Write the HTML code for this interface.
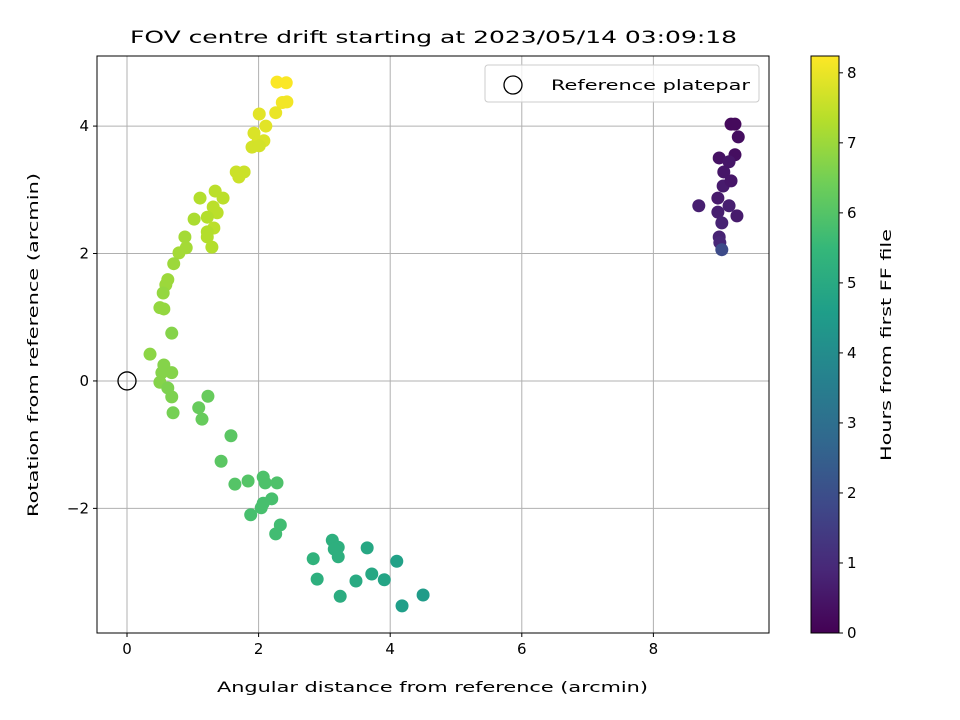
<!DOCTYPE html>
<html><head><meta charset="utf-8"><style>
body{margin:0;background:#fff}
svg{display:block;font-family:"DejaVu Sans","Liberation Sans",sans-serif}
</style></head><body>
<svg id="chart" width="960" height="720" xmlns="http://www.w3.org/2000/svg">
<defs>
<linearGradient id="vir" x1="0" y1="1" x2="0" y2="0">
<stop offset="0" stop-color="#440154"/><stop offset="0.111" stop-color="#482878"/><stop offset="0.222" stop-color="#3e4989"/><stop offset="0.333" stop-color="#31688e"/><stop offset="0.444" stop-color="#26828e"/><stop offset="0.556" stop-color="#1f9e89"/><stop offset="0.667" stop-color="#35b779"/><stop offset="0.778" stop-color="#6ece58"/><stop offset="0.889" stop-color="#b5de2b"/><stop offset="1" stop-color="#fde725"/>
</linearGradient>
</defs>
<text x="130" y="43" font-size="17" textLength="607" lengthAdjust="spacingAndGlyphs">FOV centre drift starting at 2023/05/14 03:09:18</text>
<g id="grid"></g>
<g id="marks"></g>
<rect x="97" y="56" width="672" height="577" fill="none" stroke="#000" stroke-width="1"/>
<g id="ticks"></g>
<text x="217" y="692" font-size="14" textLength="431" lengthAdjust="spacingAndGlyphs">Angular distance from reference (arcmin)</text>
<text transform="translate(38,517) rotate(-90)" font-size="14" textLength="344" lengthAdjust="spacingAndGlyphs">Rotation from reference (arcmin)</text>
<g>
<rect x="485" y="65" width="274" height="37" rx="3" fill="#fff" fill-opacity="0.8" stroke="#ccc"/>
<circle cx="513" cy="85" r="9" fill="none" stroke="#000" stroke-width="1.3"/>
<text x="551" y="90" font-size="14" textLength="199" lengthAdjust="spacingAndGlyphs">Reference platepar</text>
</g>
<rect x="811" y="56" width="28" height="577" fill="url(#vir)" stroke="#000" stroke-width="1"/>
<g id="cbticks"></g>
<text transform="translate(891,461) rotate(-90)" font-size="14" textLength="232" lengthAdjust="spacingAndGlyphs">Hours from first FF file</text>
</svg>
<script>
const xs=[9.18,9.24,9.29,9.00,9.24,9.15,9.07,9.06,9.18,8.98,9.15,8.69,8.98,9.27,9.04,9.00,9.01,9.04,
2.28,2.42,2.36,2.43,2.26,2.01,2.11,1.93,2.08,1.99,1.90,2.01,1.66,1.78,1.70,1.34,1.46,1.11,1.31,1.37,1.22,1.02,1.32,1.22,1.22,1.29,0.88,0.90,0.79,0.71,0.62,0.59,0.55,0.50,0.56,0.68,0.35,
0.56,0.68,0.53,0.50,0.62,0.68,0.70,1.23,1.09,1.14,1.58,1.43,1.64,1.84,2.07,2.10,2.28,2.20,2.07,2.04,1.88,2.33,2.26,3.12,3.21,3.15,3.21,2.83,2.89,3.24,3.48,3.65,3.72,3.91,4.10,4.18,4.50];
const ys=[4.03,4.03,3.83,3.50,3.55,3.44,3.28,3.06,3.14,2.87,2.75,2.75,2.65,2.59,2.48,2.26,2.17,2.06,
4.69,4.68,4.37,4.38,4.21,4.19,4.00,3.89,3.77,3.75,3.67,3.69,3.28,3.28,3.20,2.98,2.87,2.87,2.73,2.64,2.57,2.54,2.40,2.34,2.26,2.10,2.26,2.09,2.01,1.84,1.59,1.51,1.38,1.15,1.13,0.75,0.42,
0.25,0.13,0.13,-0.02,-0.11,-0.25,-0.50,-0.24,-0.42,-0.60,-0.86,-1.26,-1.62,-1.57,-1.51,-1.60,-1.60,-1.85,-1.92,-1.99,-2.10,-2.26,-2.40,-2.50,-2.61,-2.64,-2.76,-2.79,-3.11,-3.38,-3.14,-2.62,-3.03,-3.12,-2.83,-3.53,-3.36];
const hours=[0.2,0.2,0.3,0.4,0.3,0.5,0.5,0.6,0.5,0.6,0.7,0.7,0.7,0.6,0.8,0.8,0.9,1.9,
8.2,8.2,8.1,8.1,8.0,7.9,7.9,7.8,7.8,7.8,7.7,7.7,7.6,7.6,7.6,7.4,7.4,7.3,7.4,7.4,7.3,7.2,7.4,7.3,7.3,7.3,7.1,7.1,7.1,7.0,7.0,7.0,6.9,6.9,6.9,6.7,6.8,
6.7,6.7,6.7,6.7,6.6,6.6,6.5,6.3,6.3,6.3,6.1,6.1,6.0,6.0,5.9,5.9,5.9,5.8,5.8,5.8,5.8,5.7,5.7,5.2,5.2,5.2,5.2,5.3,5.2,5.1,5.0,4.9,4.9,4.8,4.7,4.6,4.5];
const xTicks=[0,2,4,6,8];
const yTicks=[-2,0,2,4];
const cbTicks=[0,1,2,3,4,5,6,7,8];
const refPoint=[0,0];
const X0=97,X1=769,Y0=633,Y1=56,xmin=-0.456,xmax=9.757,ymin=-3.956,ymax=5.10,hmax=8.24;
const sx=v=>X0+(v-xmin)/(xmax-xmin)*(X1-X0);
const sy=v=>Y0-(v-ymin)/(ymax-ymin)*(Y0-Y1);
const sc=v=>633-v/hmax*577;
const stops=[[68,1,84],[72,40,120],[62,73,137],[49,104,142],[38,130,142],[31,158,137],[53,183,121],[110,206,88],[181,222,43],[253,231,37]];
function vir(h){let t=Math.max(0,Math.min(1,h/hmax))*(stops.length-1);let i=Math.min(Math.floor(t),stops.length-2),f=t-i;
const c=stops[i].map((a,k)=>Math.round(a+(stops[i+1][k]-a)*f));return `rgb(${c})`;}
const NS="http://www.w3.org/2000/svg";
function mk(tag,attrs,parent,txt){const e=document.createElementNS(NS,tag);for(const k in attrs)e.setAttribute(k,attrs[k]);if(txt!==undefined)e.textContent=txt;document.getElementById(parent).appendChild(e);return e;}
xTicks.forEach(t=>{const x=sx(t);
const g=mk('line',{x1:x,x2:x,y1:Y1,y2:Y0,stroke:'#b0b0b0','stroke-width':1},'grid');


const tk=mk('line',{x1:x,x2:x,y1:Y0,y2:Y0+4,stroke:'#000'},'ticks');


const l=mk('text',{x:x,y:Y0+21,'text-anchor':'middle','font-size':15},'ticks',String(t));

});
yTicks.forEach(t=>{const y=sy(t);
const g=mk('line',{x1:X0,x2:X1,y1:y,y2:y,stroke:'#b0b0b0','stroke-width':1},'grid');


const tk=mk('line',{x1:X0-4,x2:X0,y1:y,y2:y,stroke:'#000'},'ticks');


const l=mk('text',{x:X0-8,y:y+5,'text-anchor':'end','font-size':15},'ticks',t<0?'\u2212'+(-t):String(t));

});
cbTicks.forEach(t=>{const y=sc(t);
const tk=mk('line',{x1:839,x2:843,y1:y,y2:y,stroke:'#000'},'cbticks');


const l=mk('text',{x:847,y:y+5,'font-size':15},'cbticks',String(t));

});
xs.forEach((v,i)=>{const c=mk('circle',{cx:sx(v),cy:sy(ys[i]),r:6.5,fill:vir(hours[i])},'marks');

});
const r=mk('circle',{cx:sx(refPoint[0]),cy:sy(refPoint[1]),r:9,fill:'none',stroke:'#000','stroke-width':1.3},'marks');


</script>
</body></html>
